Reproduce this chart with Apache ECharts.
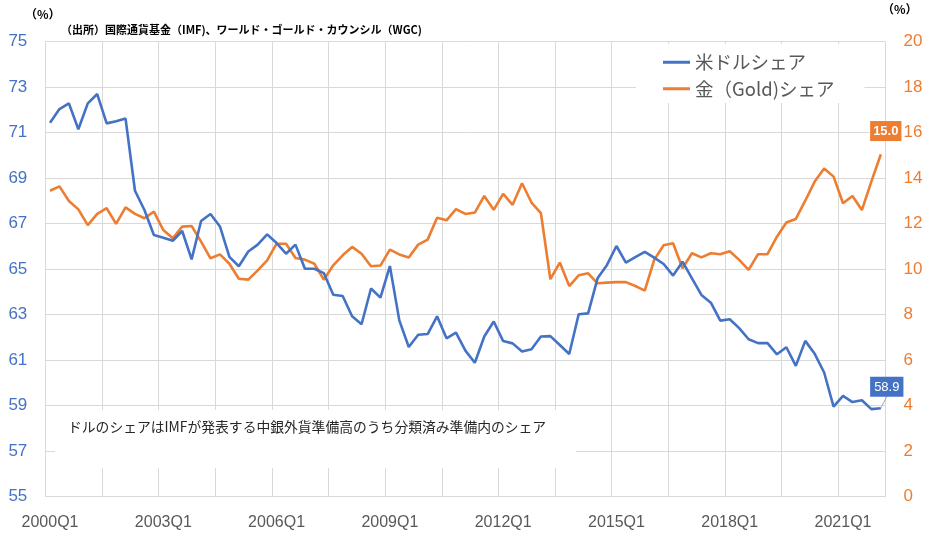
<!DOCTYPE html>
<html>
<head>
<meta charset="utf-8">
<script src="https://cdn.jsdelivr.net/npm/echarts@6/dist/echarts.min.js"></script>
<style>
html,body{margin:0;padding:0;background:#fff;}
#c{width:936px;height:552px;}
</style>
</head>
<body>
<div id="c"></div>
<script>
// Quarter labels 2000Q1 .. 2022Q1
const years = [2000,2001,2002,2003,2004,2005,2006,2007,2008,2009,2010,2011,2012,2013,2014,2015,2016,2017,2018,2019,2020,2021,2022];
const categories = [];
years.forEach(y => { for (let q = 1; q <= 4; q++) { if (y === 2022 && q > 1) break; categories.push(y + 'Q' + q); } });

// USD share of allocated reserves (%), left axis
const usdShare = [
 71.44,72.04,72.29,71.15,72.29,72.70,71.41,71.50,71.62,68.45,
 67.60,66.50,66.38,66.25,66.68,65.43,67.12,67.43,66.88,65.54,
 65.13,65.78,66.08,66.53,66.15,65.68,66.08,65.02,65.02,64.83,
 63.88,63.82,62.93,62.58,64.15,63.75,65.14,62.75,61.58,62.12,
 62.15,62.93,61.96,62.21,61.42,60.89,62.04,62.70,61.84,61.74,
 61.38,61.48,62.04,62.06,61.67,61.27,63.02,63.06,64.60,65.19,
 66.02,65.29,65.53,65.76,65.51,65.23,64.72,65.33,64.60,63.87,
 63.53,62.74,62.80,62.41,61.92,61.75,61.75,61.26,61.57,60.75,
 61.85,61.28,60.46,58.96,59.43,59.16,59.24,58.85,58.89
];

// Gold share (%), right axis
const goldShare = [
 13.45,13.64,13.00,12.63,11.94,12.43,12.68,11.99,12.72,12.43,
 12.24,12.53,11.72,11.36,11.87,11.90,11.21,10.48,10.65,10.24,
 9.58,9.54,9.95,10.39,11.12,11.12,10.49,10.42,10.24,9.54,
 10.17,10.61,10.98,10.68,10.13,10.16,10.86,10.65,10.51,11.08,
 11.30,12.26,12.15,12.64,12.43,12.49,13.22,12.61,13.31,12.83,
 13.78,12.93,12.46,9.56,10.29,9.26,9.73,9.82,9.38,9.41,
 9.43,9.43,9.26,9.06,10.41,11.05,11.14,10.04,10.70,10.52,
 10.70,10.66,10.79,10.41,9.97,10.66,10.66,11.43,12.05,12.21,
 13.01,13.85,14.43,14.07,12.90,13.22,12.60,13.85,15.04
];

const leftTicks = {min: 55, max: 75, interval: 2};
const rightTicks = {min: 0, max: 20, interval: 2};

const seriesNames = ['米ドルシェア', '金（Gold)シェア'];
const sourceText = '（出所）国際通貨基金（IMF)、ワールド・ゴールド・カウンシル（WGC)';
const noteText = 'ドルのシェアはIMFが発表する中銀外貨準備高のうち分類済み準備内のシェア';

const BLUE = '#4472C4', ORANGE = '#ED7D31';
const numFont = 'Liberation Sans';
const jpFont = 'Noto Sans CJK JP';

function withLastLabel(arr, style) {
  return arr.map((v, i) => i === arr.length - 1 ? {value: v, symbolSize: 1, label: style} : v);
}

const chart = echarts.init(document.getElementById('c'), null, {renderer: 'canvas'});
chart.setOption({
  animation: false,
  backgroundColor: '#fff',
  grid: {left: 45.3, right: 50.5, top: 41.7, bottom: 55.3, containLabel: false},
  legend: {
    orient: 'vertical', left: 636, top: 44,
    padding: [9, 30, 5, 27],
    backgroundColor: '#fff',
    itemWidth: 27, itemHeight: 3, itemGap: 8, icon: 'rect',
    textStyle: {fontSize: 18.5, color: '#595959', fontFamily: jpFont},
    data: seriesNames
  },
  xAxis: {
    type: 'category', data: categories, boundaryGap: true,
    axisLine: {show: true, lineStyle: {color: '#D9D9D9'}},
    axisTick: {show: false},
    axisLabel: {interval: 11, color: '#595959', fontSize: 16, fontFamily: numFont, margin: 18},
    splitLine: {show: true, interval: 5, lineStyle: {color: '#D9D9D9', width: 1}}
  },
  yAxis: [
    {
      type: 'value', min: leftTicks.min, max: leftTicks.max, interval: leftTicks.interval,
      axisLine: {show: false}, axisTick: {show: false},
      axisLabel: {color: BLUE, fontSize: 17, fontFamily: numFont, margin: 18},
      splitLine: {show: true, lineStyle: {color: '#D9D9D9', width: 1}}
    },
    {
      type: 'value', min: rightTicks.min, max: rightTicks.max, interval: rightTicks.interval,
      axisLine: {show: false}, axisTick: {show: false},
      axisLabel: {color: ORANGE, fontSize: 17, fontFamily: numFont, margin: 18},
      splitLine: {show: false}
    }
  ],
  series: [
    {
      name: seriesNames[0], type: 'line', yAxisIndex: 0,
      data: withLastLabel(usdShare, {
        show: true, position: 'top', distance: 5,
        formatter: p => Number(p.value).toFixed(1),
        backgroundColor: BLUE, color: '#fff', fontSize: 13, fontFamily: numFont,
        padding: [4, 4, 3, 4]
      }),
      labelLayout: {dx: 6, dy: -6},
      labelLine: {show: true, lineStyle: {color: '#A6A6A6', width: 1}},
      showSymbol: true, showAllSymbol: true, symbol: 'circle', symbolSize: 0,
      lineStyle: {color: BLUE, width: 2.6},
      itemStyle: {color: BLUE},
      z: 3
    },
    {
      name: seriesNames[1], type: 'line', yAxisIndex: 1,
      data: withLastLabel(goldShare, {
        show: true, position: 'top', distance: 13, offset: [5, 0],
        formatter: p => Number(p.value).toFixed(1),
        backgroundColor: ORANGE, color: '#fff', fontSize: 13, fontWeight: 'bold', fontFamily: numFont,
        padding: [4, 3, 3, 3]
      }),
      showSymbol: true, showAllSymbol: true, symbol: 'circle', symbolSize: 0,
      lineStyle: {color: ORANGE, width: 2.6},
      itemStyle: {color: ORANGE},
      z: 2
    }
  ],
  graphic: [
    {type: 'text', left: 25, top: 8, style: {text: '（%）', fontSize: 12, fontWeight: 'bold', fill: '#000', fontFamily: jpFont}},
    {type: 'text', left: 882, top: 3, style: {text: '（%）', fontSize: 12, fontWeight: 'bold', fill: '#000', fontFamily: jpFont}},
    {type: 'text', left: 61, top: 24, style: {text: sourceText, fontSize: 11, fontWeight: 'bold', fill: '#000', fontFamily: jpFont}},
    {type: 'rect', z: 1, shape: {x: 55, y: 410, width: 521, height: 58}, style: {fill: '#fff'}},
    {type: 'text', z: 2, left: 68, top: 420, style: {text: noteText, fontSize: 13.8, fill: '#262626', fontFamily: jpFont}}
  ]
});
</script>
</body>
</html>
